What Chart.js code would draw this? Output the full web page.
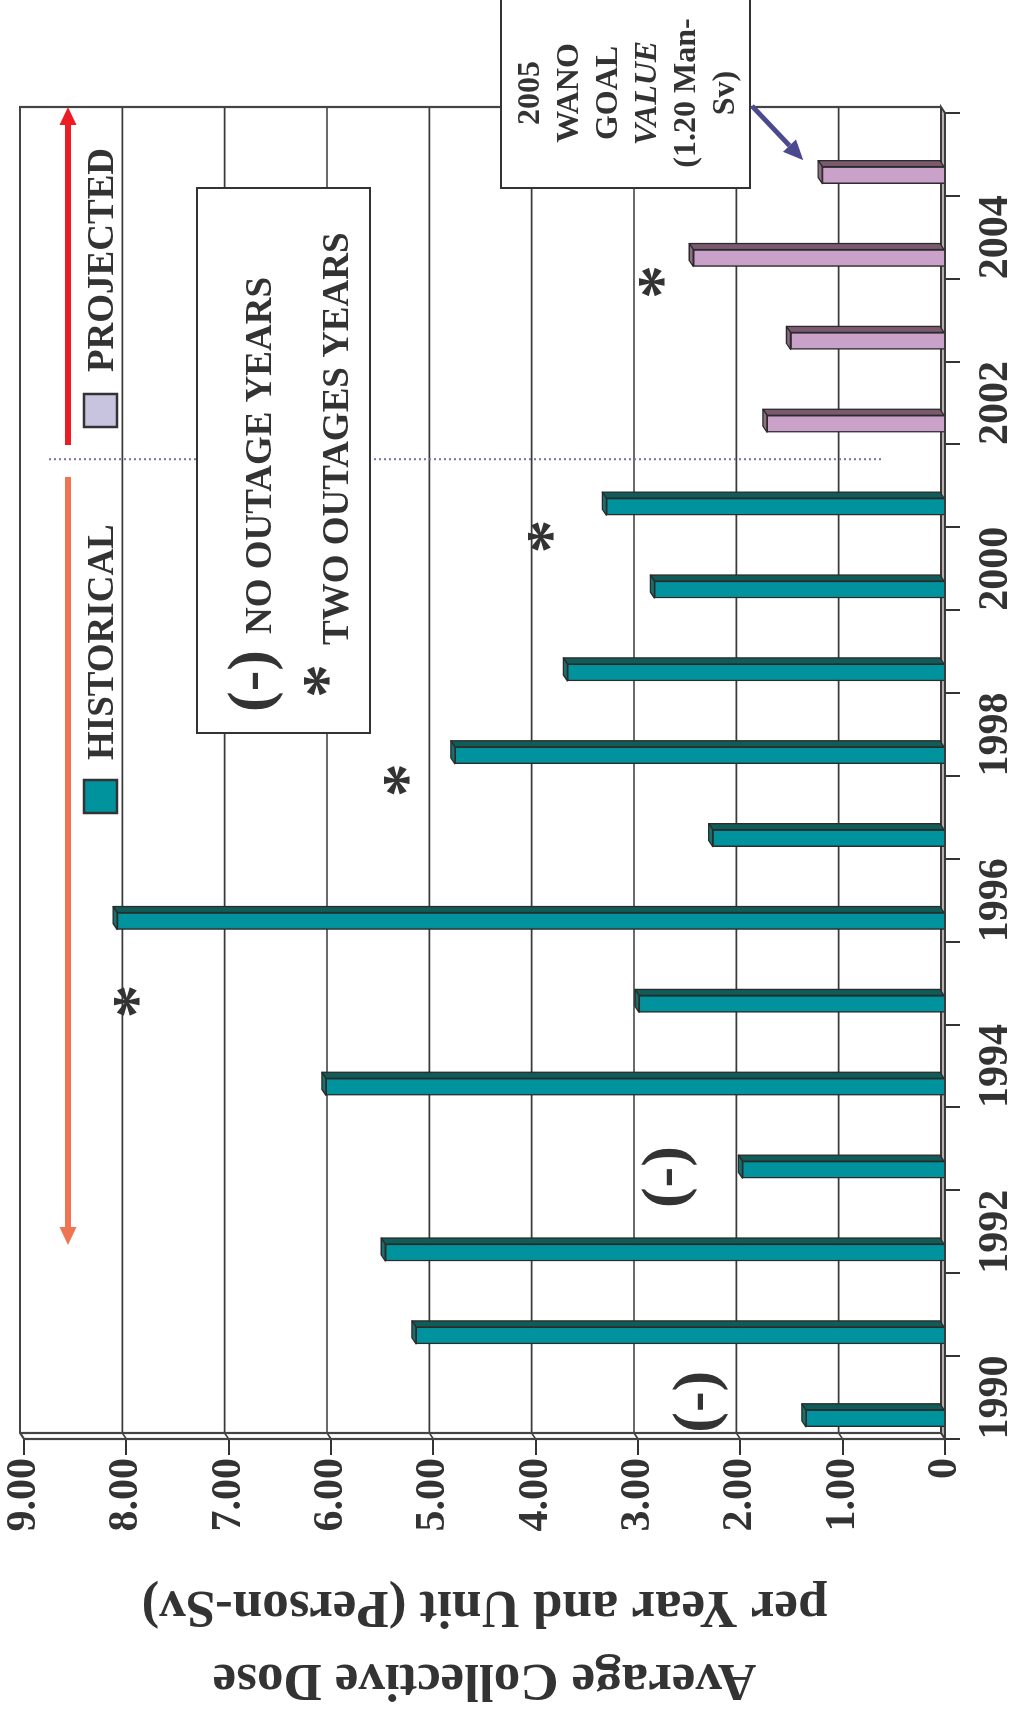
<!DOCTYPE html>
<html>
<head>
<meta charset="utf-8">
<script src="https://cdn.jsdelivr.net/npm/chart.js@4.4.0/dist/chart.umd.min.js"></script>
<style>
  html, body { margin: 0; padding: 0; background: #fff; overflow: hidden; }
  #page { position: relative; width: 1016px; height: 1715px; overflow: hidden; background: #fff; }
  /* the chart is laid out landscape and turned a quarter turn counter-clockwise */
  #turn { position: absolute; left: 0; top: 0; width: 1715px; height: 1016px;
          transform-origin: 0 0; transform: translateY(1715px) rotate(-90deg); }
</style>
</head>
<body>
<div id="page"><div id="turn"><canvas id="dose" width="1715" height="1016"></canvas></div></div>
<script>
// Average collective dose per year and unit (Person-Sv)
const years = [1990, 1991, 1992, 1993, 1994, 1995, 1996, 1997, 1998, 1999, 2000, 2001, 2002, 2003, 2004, 2005];
const historical = [1.36, 5.17, 5.47, 1.98, 6.05, 2.99, 8.09, 2.27, 4.79, 3.69, 2.84, 3.31]; // 1990-2001
const projected = [1.74, 1.51, 2.46, 1.20];                                                  // 2002-2005
const yearTicks = ['1990', '1992', '1994', '1996', '1998', '2000', '2002', '2004'];
const doseTicks = ['0', '1.00', '2.00', '3.00', '4.00', '5.00', '6.00', '7.00', '8.00', '9.00'];

// annotation symbols, placed in axis units (year, dose)
const noOutageMarks = [[1990.2, 2.39], [1992.91, 2.7]];
const twoOutageMarks = [[1995.03, 8.0], [1997.7, 5.36], [2000.64, 3.96], [2003.71, 2.87]];
const splitYear = 2001.5;

const SERIF = '"Liberation Serif", "Times New Roman", serif';
const INK = '#333333';
const SHIFT = 0.25;          // bars sit a quarter category in front of their label
const DEPTH = { dx: 6, dy: -4 };

const histPoints = historical.map((v, i) => ({ x: years[i], y: v }));
const projPoints = projected.map((v, i) => ({ x: years[historical.length + i], y: v }));

const sideColors = {
  HISTORICAL: { side: '#0F5C59', top: '#17706E' },
  PROJECTED: { side: '#7B5A70', top: '#8E6D85' }
};

function txt(ctx, s, x, y, size, opts = {}) {
  ctx.save();
  ctx.font = `${opts.italic ? 'italic ' : ''}bold ${size}px ${SERIF}`;
  ctx.fillStyle = opts.color || INK;
  ctx.textAlign = opts.align || 'left';
  ctx.textBaseline = opts.baseline || 'alphabetic';
  ctx.fillText(s, x, y);
  ctx.restore();
}

function arrow(ctx, x0, y0, x1, y1, color, width, head, headW) {
  const a = Math.atan2(y1 - y0, x1 - x0);
  const bx = x1 - Math.cos(a) * head, by = y1 - Math.sin(a) * head;
  ctx.save();
  ctx.strokeStyle = color; ctx.fillStyle = color; ctx.lineWidth = width; ctx.lineCap = 'butt';
  ctx.beginPath(); ctx.moveTo(x0, y0); ctx.lineTo(bx, by); ctx.stroke();
  ctx.beginPath();
  ctx.moveTo(x1, y1);
  ctx.lineTo(bx + Math.sin(a) * headW / 2, by - Math.cos(a) * headW / 2);
  ctx.lineTo(bx - Math.sin(a) * headW / 2, by + Math.cos(a) * headW / 2);
  ctx.closePath(); ctx.fill();
  ctx.restore();
}

const box3d = {
  id: 'box3d',
  beforeDatasetsDraw(chart) {
    const { ctx, chartArea: { left: L, right: R, top: T, bottom: B } } = chart;
    const ys = chart.scales.y, xs = chart.scales.x;
    const { dx, dy } = DEPTH;
    ctx.save();
    // floor
    ctx.fillStyle = '#B9AEAE';
    ctx.beginPath();
    ctx.moveTo(L, B); ctx.lineTo(R, B); ctx.lineTo(R + dx, B + dy); ctx.lineTo(L + dx, B + dy); ctx.closePath();
    ctx.fill();
    ctx.strokeStyle = '#3A3A3A'; ctx.lineWidth = 2; ctx.stroke();
    // back-wall gridlines, continued across the side wall
    ctx.lineWidth = 1.6; ctx.strokeStyle = '#3A3A3A';
    for (let v = 1; v <= 8; v++) {
      const p = ys.getPixelForValue(v);
      ctx.beginPath();
      ctx.moveTo(L, p); ctx.lineTo(L + dx, p + dy); ctx.lineTo(R + dx, p + dy);
      ctx.stroke();
    }
    // wall outlines
    ctx.lineWidth = 2.2; ctx.strokeStyle = '#444';
    ctx.beginPath();
    ctx.moveTo(L, B); ctx.lineTo(L, T); ctx.lineTo(L + dx, T + dy); ctx.lineTo(R + dx, T + dy); ctx.lineTo(R + dx, B + dy);
    ctx.moveTo(L + dx, T + dy); ctx.lineTo(L + dx, B + dy);
    ctx.stroke();
    // dotted divider between historical and projected years
    const sx = xs.getPixelForValue(splitYear) + dx;
    ctx.strokeStyle = '#7A70A8'; ctx.lineWidth = 2; ctx.setLineDash([2, 3]);
    ctx.beginPath(); ctx.moveTo(sx, 49); ctx.lineTo(sx, 882); ctx.stroke();
    ctx.restore();
  },
  afterDatasetsDraw(chart) {
    const { ctx } = chart;
    const { dx, dy } = DEPTH;
    ctx.save();
    ctx.strokeStyle = '#2B2B2B'; ctx.lineWidth = 1.3; ctx.lineJoin = 'round';
    chart.data.datasets.forEach((ds, di) => {
      const meta = chart.getDatasetMeta(di);
      const c = sideColors[ds.label];
      meta.data.forEach((bar) => {
        const { x, y, base, width } = bar.getProps(['x', 'y', 'base', 'width'], true);
        const l = x - width / 2, r = x + width / 2;
        ctx.fillStyle = c.side;
        ctx.beginPath();
        ctx.moveTo(r, y); ctx.lineTo(r + dx, y + dy); ctx.lineTo(r + dx, base + dy); ctx.lineTo(r, base); ctx.closePath();
        ctx.fill(); ctx.stroke();
        ctx.fillStyle = c.top;
        ctx.beginPath();
        ctx.moveTo(l, y); ctx.lineTo(l + dx, y + dy); ctx.lineTo(r + dx, y + dy); ctx.lineTo(r, y); ctx.closePath();
        ctx.fill(); ctx.stroke();
      });
    });
    ctx.restore();
  },
  afterDraw(chart) {
    const { ctx } = chart;
    const xs = chart.scales.x, ys = chart.scales.y;

    // period arrows
    arrow(ctx, 1238, 68, 470, 68, '#F07352', 6, 18, 17);
    arrow(ctx, 1270, 68, 1608, 68, '#ED1C24', 6, 18, 17);

    // series key
    ctx.save();
    ctx.lineWidth = 2.5; ctx.strokeStyle = '#333';
    ctx.fillStyle = '#00939E'; ctx.fillRect(902, 84, 33, 33); ctx.strokeRect(902, 84, 33, 33);
    ctx.fillStyle = '#C8C4E0'; ctx.fillRect(1288, 84, 33, 33); ctx.strokeRect(1288, 84, 33, 33);
    ctx.restore();
    txt(ctx, 'HISTORICAL', 955, 113, 37);
    txt(ctx, 'PROJECTED', 1343, 113, 37);

    // symbol key
    ctx.save();
    ctx.fillStyle = '#fff'; ctx.strokeStyle = '#333'; ctx.lineWidth = 2;
    ctx.fillRect(982, 197, 545, 173); ctx.strokeRect(982, 197, 545, 173);
    ctx.restore();
    txt(ctx, '(-)', 1034, 270, 62, { align: 'center' });
    txt(ctx, 'NO OUTAGE YEARS', 1081, 271, 37);
    txt(ctx, '*', 1034, 348, 68, { align: 'center' });
    txt(ctx, 'TWO OUTAGES YEARS', 1070, 348, 37);

    // symbols on the plot
    noOutageMarks.forEach(([yr, v]) => {
      txt(ctx, '(-)', xs.getPixelForValue(yr), ys.getPixelForValue(v) + 15, 62, { align: 'center' });
    });
    twoOutageMarks.forEach(([yr, v]) => {
      txt(ctx, '*', xs.getPixelForValue(yr), ys.getPixelForValue(v) + 32, 68, { align: 'center' });
    });

    // goal call-out
    ctx.save();
    ctx.fillStyle = '#fff'; ctx.strokeStyle = '#333'; ctx.lineWidth = 2;
    ctx.fillRect(1527, 501, 200, 249); ctx.strokeRect(1527, 501, 200, 249);
    ctx.restore();
    const goalLines = ['2005', 'WANO', 'GOAL', 'VALUE', '(1.20 Man-', 'Sv)'];
    goalLines.forEach((s, k) => {
      txt(ctx, s, 1622, 531 + 39 * k, 32, { align: 'center', baseline: 'middle', italic: s === 'VALUE' });
    });
    const gx = xs.getPixelForValue(years[years.length - 1]), gy = ys.getPixelForValue(projected[projected.length - 1]);
    arrow(ctx, 1609, 752, gx + 15, gy - 19, '#4B4A8E', 5, 20, 18);
  }
};

new Chart(document.getElementById('dose'), {
  type: 'bar',
  data: {
    datasets: [
      { label: 'HISTORICAL', data: histPoints, backgroundColor: '#00939E', borderColor: '#2B2B2B', borderWidth: 1.5, barThickness: 17, grouped: false },
      { label: 'PROJECTED', data: projPoints, backgroundColor: '#C9A1C9', borderColor: '#2B2B2B', borderWidth: 1.5, barThickness: 17, grouped: false }
    ]
  },
  options: {
    responsive: false,
    animation: false,
    devicePixelRatio: 1,
    layout: { padding: { top: 23, right: 113, bottom: 0, left: 0 } },
    plugins: { legend: { display: false }, tooltip: { enabled: false } },
    scales: {
      x: {
        type: 'linear',
        offset: false,
        min: years[0] - SHIFT,
        max: years[years.length - 1] + 1 - SHIFT,
        afterBuildTicks: (s) => {
          s.ticks = years.concat([years[years.length - 1] + 1]).map((y) => ({ value: y - SHIFT }));
        },
        afterFit: (s) => { s.height = 71; },
        ticks: {
          autoSkip: false, maxRotation: 0, minRotation: 0,
          labelOffset: 41.4, padding: 11, color: INK,
          font: { family: SERIF, weight: 'bold', size: 42, lineHeight: 1.2 },
          callback: (v) => { const y = String(Math.round(v + SHIFT)); return yearTicks.includes(y) ? y : ''; }
        },
        grid: { offset: false, drawOnChartArea: false, drawTicks: true, tickLength: 15, color: '#333', lineWidth: 2 },
        border: { display: false }
      },
      y: {
        type: 'linear',
        min: 0, max: 9,
        afterFit: (s) => { s.width = 276; },
        ticks: {
          stepSize: 1, padding: 3, color: INK,
          font: { family: SERIF, weight: 'bold', size: 42, lineHeight: 1 },
          callback: (v) => doseTicks[v]
        },
        grid: { drawOnChartArea: false, drawTicks: true, tickLength: 16, color: '#333', lineWidth: 2 },
        border: { display: false },
        title: {
          display: true,
          text: ['Average Collective Dose', 'per Year and Unit (Person-Sv)'],
          color: INK,
          font: { family: SERIF, weight: 'bold', size: 53, lineHeight: 1.37 },
          padding: { top: 0, bottom: 0 }
        }
      }
    }
  },
  plugins: [box3d]
});
</script>
</body>
</html>
